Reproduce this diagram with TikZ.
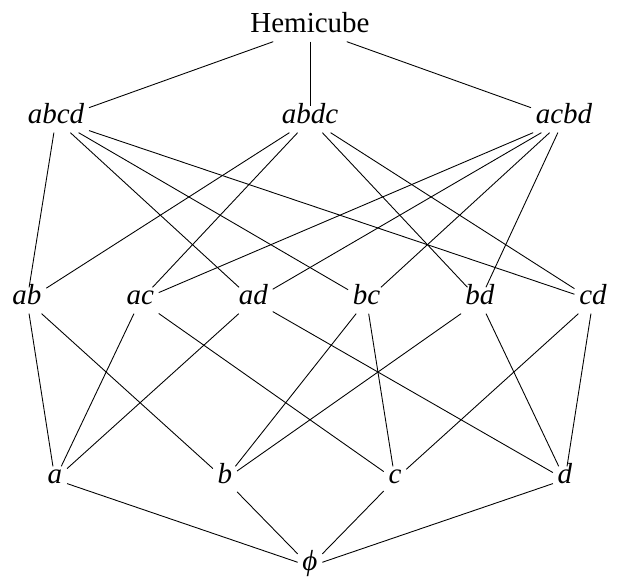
\documentclass[tikz,border=0pt]{standalone}
\usepackage{fontspec}
\setmainfont{Liberation Serif}
\usetikzlibrary{positioning}

\begin{document}
\begin{tikzpicture}[node distance=2cm,on grid,
    elem/.style={font=\fontsize{16.5}{20}\selectfont\itshape,inner sep=2.5pt,
                 text height=0.7em,text depth=0.25em},
    top/.style={elem,font=\fontsize{16.5}{20}\selectfont},
    every path/.style={line width=0.5pt}]
    \useasboundingbox (-6.2,-0.25) rectangle (6.14,11.33);

    % bottom: empty set
    \node[elem] (e) {ϕ};
    % single letters
    \node[elem] (b) [above left=1.74cm and 1.7cm of e] {b};
    \node[elem] (c) [above right=1.74cm and 1.7cm of e] {c};
    \node[elem] (a) [left=3.4cm of b] {a};
    \node[elem] (d) [right=3.4cm of c] {d};
    % pairs
    \node[elem] (ad) [above left=5.32cm and 1.132cm of e] {ad};
    \node[elem] (bc) [above right=5.32cm and 1.132cm of e] {bc};
    \node[elem] (ac) [left=2.264cm of ad] {ac};
    \node[elem] (ab) [left=2.264cm of ac] {ab};
    \node[elem] (bd) [right=2.264cm of bc] {bd};
    \node[elem] (cd) [right=2.264cm of bd] {cd};
    % cycles
    \node[elem] (abdc) [above=8.94cm of e] {abdc};
    \node[elem] (abcd) [left=5.08cm of abdc] {abcd};
    \node[elem] (acbd) [right=5.08cm of abdc] {acbd};
    \node[top] (hemi) [above=1.82cm of abdc] {Hemicube};

    \path
      (hemi) edge (abcd) edge (abdc) edge (acbd)
      (abcd) edge (ab) edge (bc) edge (cd) edge (ad)
      (abdc) edge (ab) edge (bd) edge (cd) edge (ac)
      (acbd) edge (ac) edge (bc) edge (bd) edge (ad)
      (ab) edge (a) edge (b)
      (ac) edge (a) edge (c)
      (ad) edge (a) edge (d)
      (bc) edge (b) edge (c)
      (bd) edge (b) edge (d)
      (cd) edge (c) edge (d)
      (e)  edge (a) edge (b) edge (c) edge (d);
  \end{tikzpicture}
\end{document}
